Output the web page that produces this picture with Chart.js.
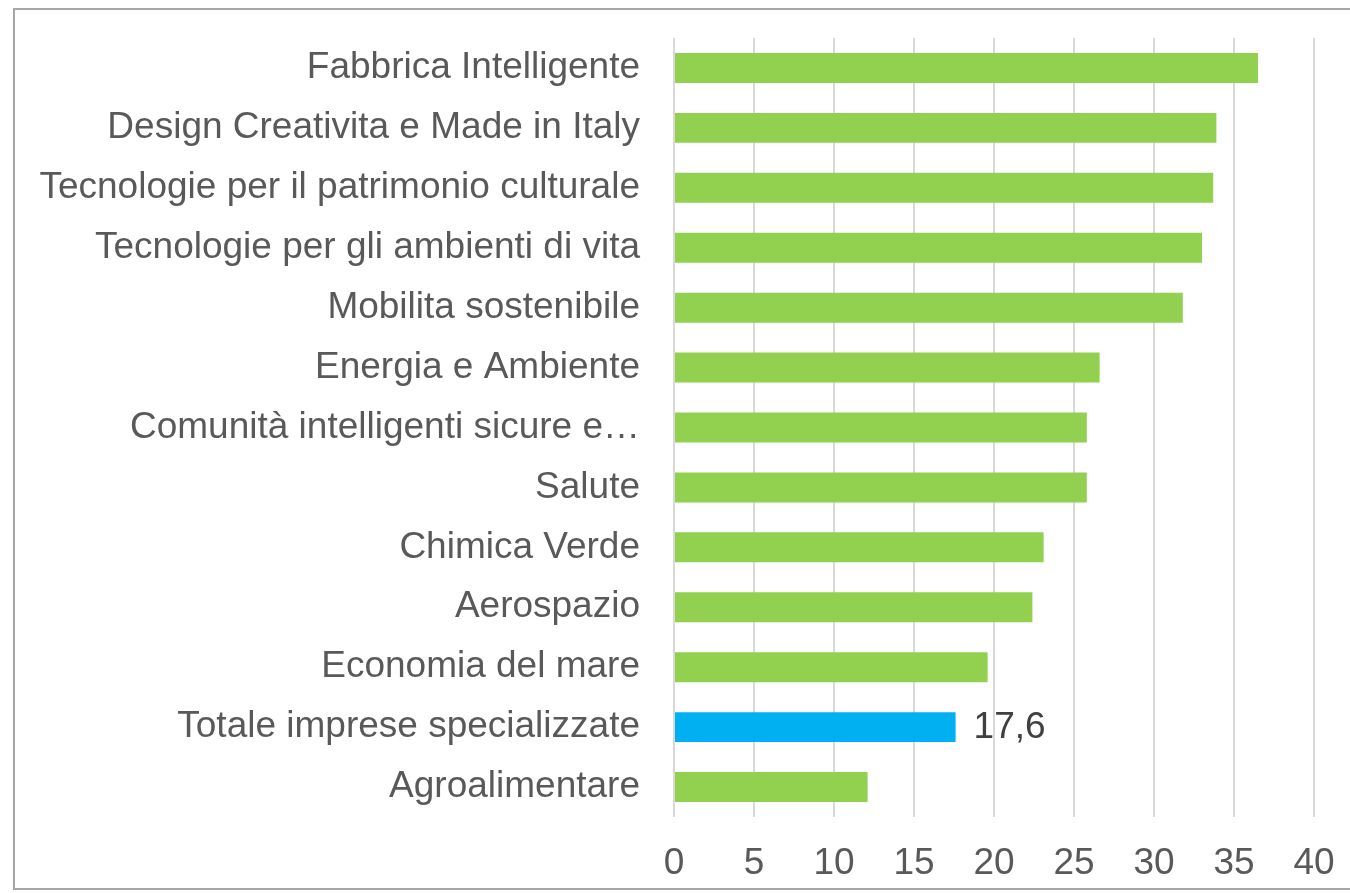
<!DOCTYPE html>
<html>
<head>
<meta charset="utf-8">
<script src="https://cdn.jsdelivr.net/npm/chart.js@4/dist/chart.umd.min.js"></script>
<style>
  html, body { margin: 0; padding: 0; background: #fff; }
  #frame {
    position: absolute; left: 13px; top: 8px; width: 1350px; height: 882px;
    border: 2px solid #a6a6a6; box-sizing: border-box;
  }
  #wrap { position: absolute; left: 0; top: 0; width: 1350px; height: 893px; }
</style>
</head>
<body>
<div id="frame"></div>
<div id="wrap"><canvas id="chart" width="1350" height="893"></canvas></div>
<script>
const categories = [
  'Fabbrica Intelligente',
  'Design Creativita e Made in Italy',
  'Tecnologie per il patrimonio culturale',
  'Tecnologie per gli ambienti di vita',
  'Mobilita sostenibile',
  'Energia e Ambiente',
  'Comunità intelligenti sicure e…',
  'Salute',
  'Chimica Verde',
  'Aerospazio',
  'Economia del mare',
  'Totale imprese specializzate',
  'Agroalimentare'
]
const values = [36.5, 33.9, 33.7, 33.0, 31.8, 26.6, 25.8, 25.8, 23.1, 22.4, 19.6, 17.6, 12.1]
const highlight = 'Totale imprese specializzate'
const xTicks = [0, 5, 10, 15, 20, 25, 30, 35, 40]

const FONT = 'Liberation Sans, Arial, sans-serif'

// label only the highlighted bar, like the original
const valueLabel = {
  id: 'valueLabel',
  afterDatasetsDraw (chart) {
    const ctx = chart.ctx
    const meta = chart.getDatasetMeta(0)
    const i = categories.indexOf(highlight)
    const bar = meta.data[i]
    ctx.save()
    ctx.font = '37px ' + FONT
    ctx.fillStyle = '#404040'
    ctx.textAlign = 'left'
    ctx.textBaseline = 'middle'
    ctx.fillText(values[i].toFixed(1).replace('.', ','), bar.x + 18, bar.y + 1)
    ctx.restore()
  }
}

new Chart(document.getElementById('chart'), {
  type: 'bar',
  data: {
    labels: categories,
    datasets: [{
      data: values,
      backgroundColor: categories.map(c => c === highlight ? '#00B0F0' : '#92D050'),
      barPercentage: 0.5,
      categoryPercentage: 1
    }]
  },
  options: {
    indexAxis: 'y',
    responsive: false,
    animation: false,
    layout: { padding: { top: 38, right: 36, left: 0, bottom: 0 } },
    plugins: {
      legend: { display: false },
      tooltip: { enabled: false }
    },
    scales: {
      x: {
        min: 0,
        max: 40,
        afterBuildTicks: scale => { scale.ticks = xTicks.map(v => ({ value: v })) },
        afterFit: scale => {
          scale.height = 76
          scale.paddingLeft = 0
          scale.paddingRight = 0
        },
        grid: { color: '#d9d9d9', lineWidth: 2, drawTicks: false },
        border: { display: false },
        ticks: {
          color: '#595959',
          font: { family: FONT, size: 37 },
          padding: 25
        }
      },
      y: {
        afterFit: scale => {
          scale.width = 674
          scale.paddingTop = 0
          scale.paddingBottom = 0
        },
        grid: { display: false },
        border: { display: false },
        ticks: {
          color: '#595959',
          font: { family: FONT, size: 37 },
          padding: 26,
          autoSkip: false
        }
      }
    }
  },
  plugins: [valueLabel]
})
</script>
</body>
</html>
